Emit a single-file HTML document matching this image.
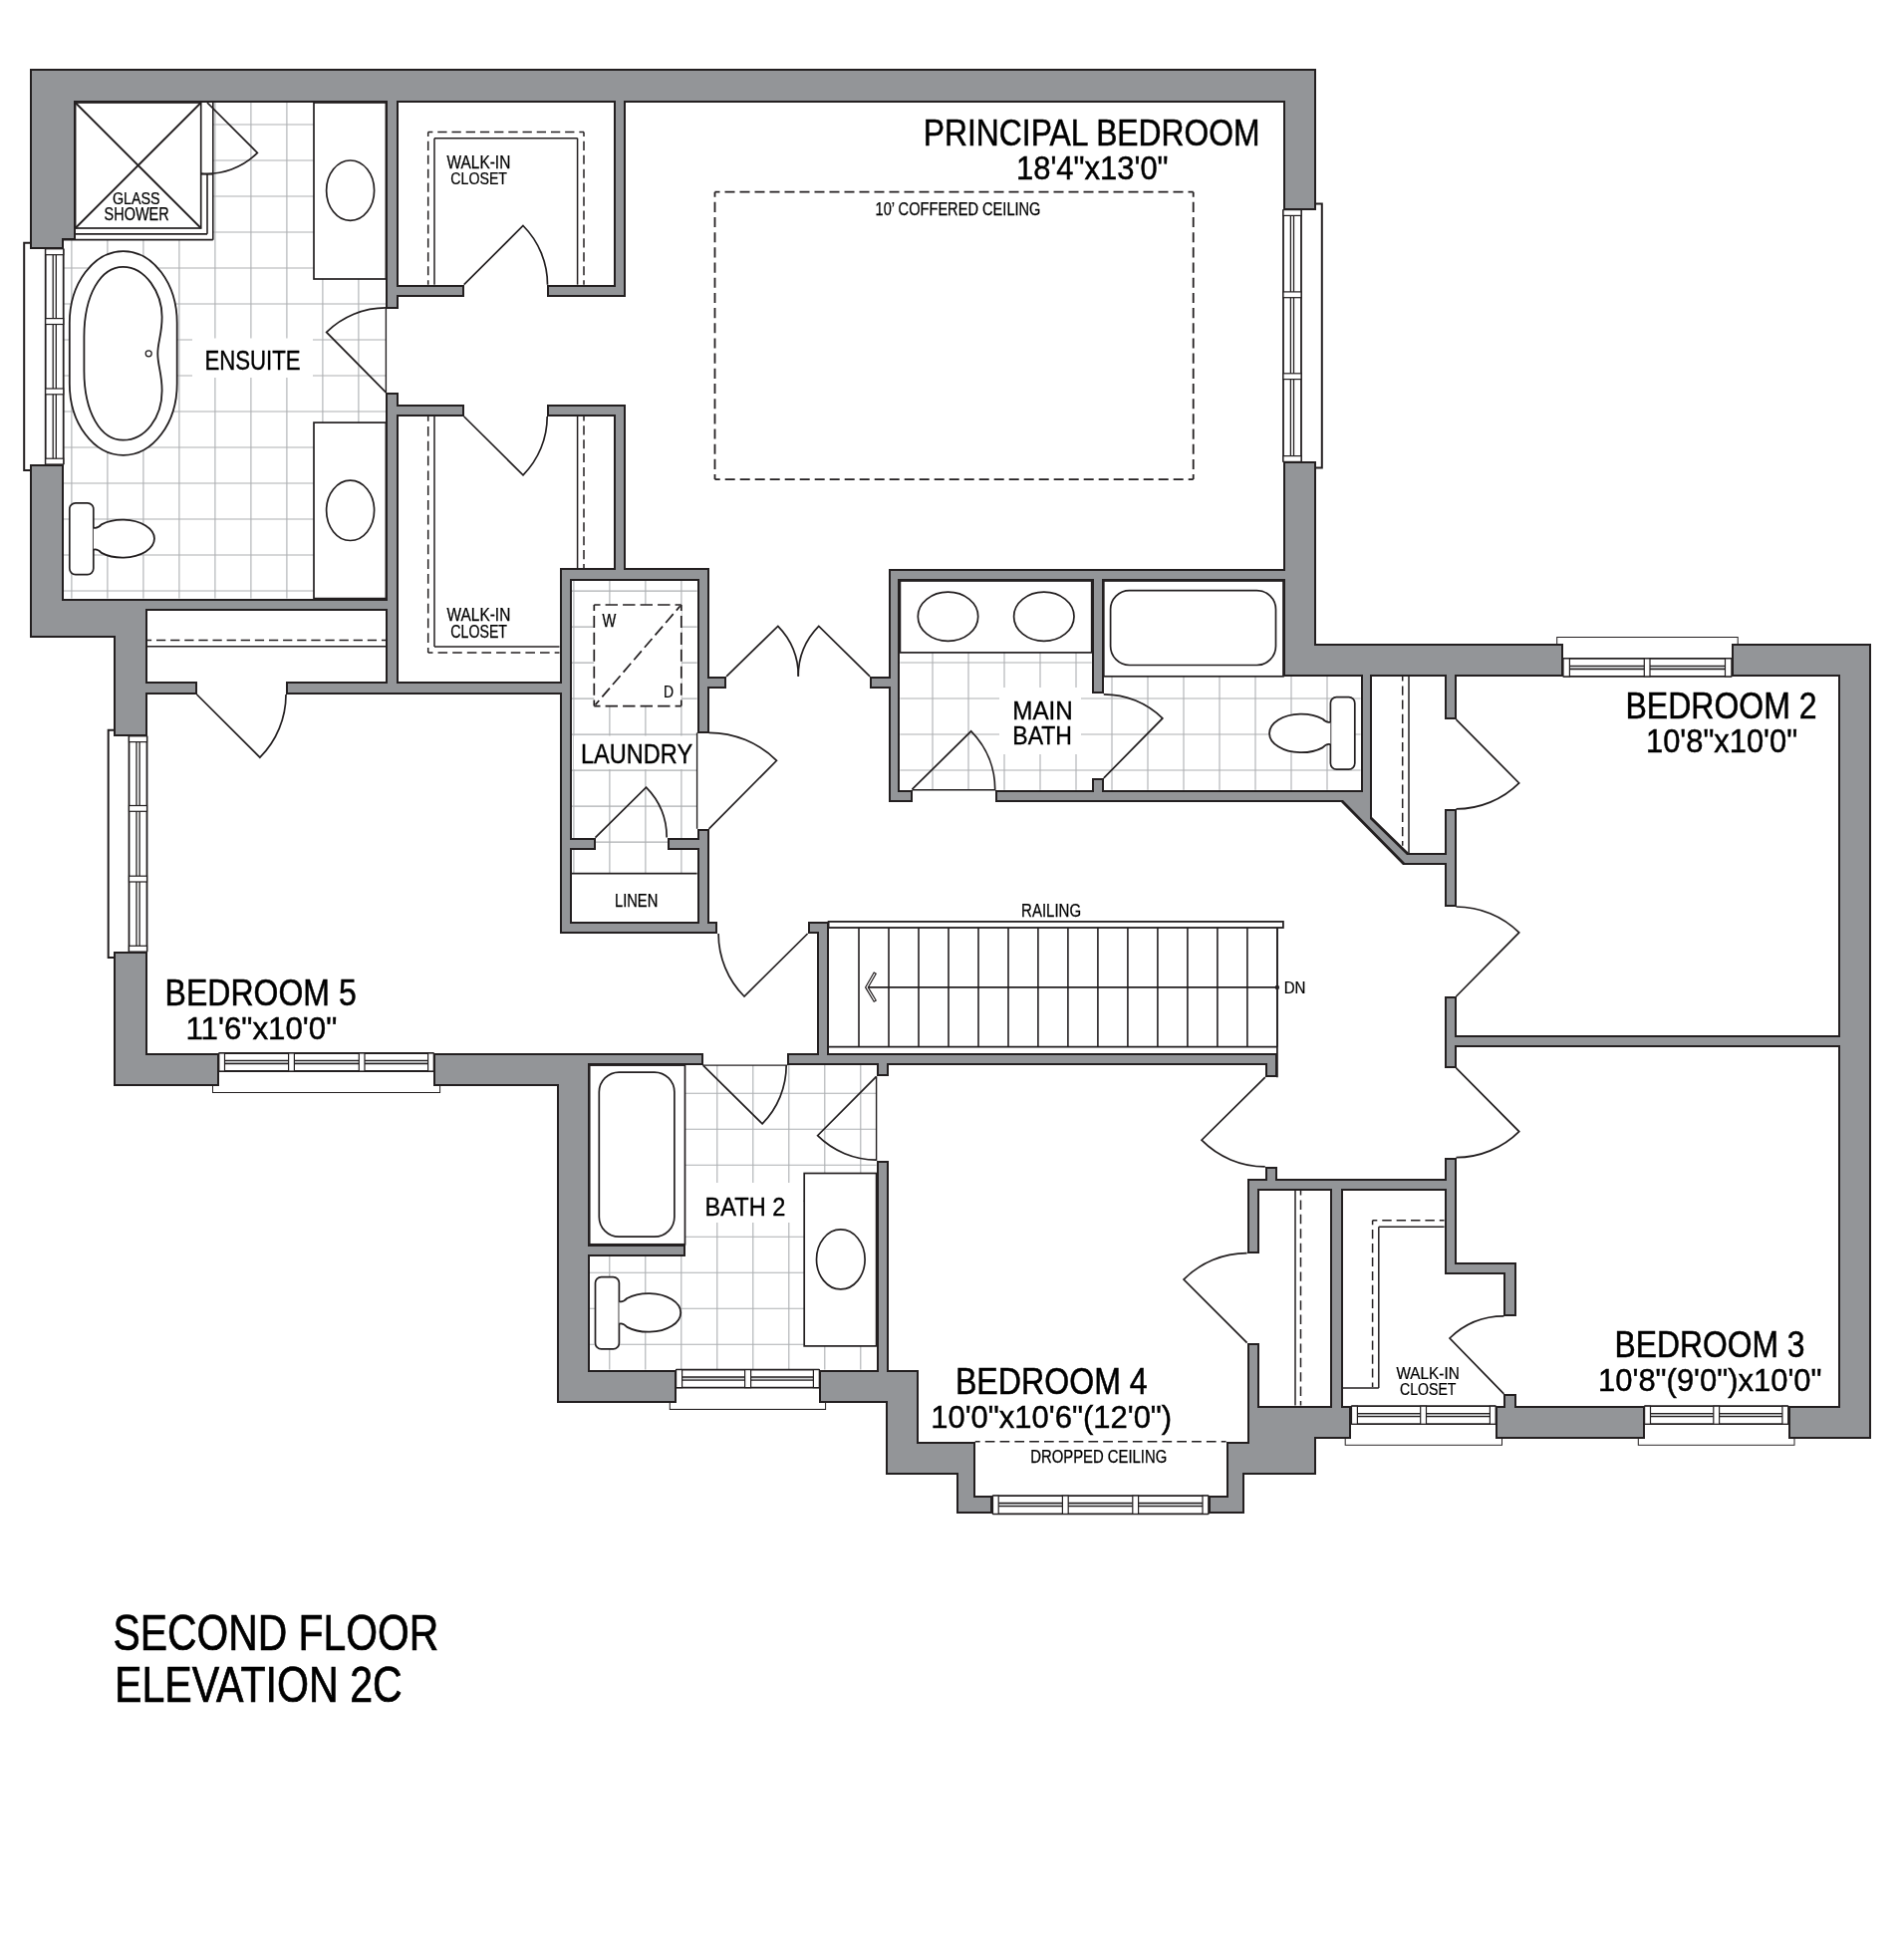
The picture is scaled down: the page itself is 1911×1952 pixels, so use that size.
<!DOCTYPE html>
<html><head><meta charset="utf-8"><title>Second Floor Elevation 2C</title>
<style>html,body{margin:0;padding:0;background:#fff;}svg{display:block;}
text{font-family:"Liberation Sans",sans-serif;fill:#000;}</style></head>
<body>
<svg width="1911" height="1952" viewBox="0 0 1911 1952">
<rect width="1911" height="1952" fill="#fff"/>
<clipPath id="ce"><rect x="213.8" y="103" width="101.19999999999999" height="137.7"/><rect x="63.7" y="240.7" width="323.7" height="359.90000000000003"/></clipPath>
<g clip-path="url(#ce)" stroke="#adafb2" stroke-width="1.1">
<line x1="71.9" y1="103" x2="71.9" y2="601"/>
<line x1="107.9" y1="103" x2="107.9" y2="601"/>
<line x1="143.9" y1="103" x2="143.9" y2="601"/>
<line x1="179.9" y1="103" x2="179.9" y2="601"/>
<line x1="215.9" y1="103" x2="215.9" y2="601"/>
<line x1="251.9" y1="103" x2="251.9" y2="601"/>
<line x1="287.9" y1="103" x2="287.9" y2="601"/>
<line x1="323.9" y1="103" x2="323.9" y2="601"/>
<line x1="359.9" y1="103" x2="359.9" y2="601"/>
<line x1="63" y1="125.0" x2="388" y2="125.0"/>
<line x1="63" y1="161.0" x2="388" y2="161.0"/>
<line x1="63" y1="197.0" x2="388" y2="197.0"/>
<line x1="63" y1="233.0" x2="388" y2="233.0"/>
<line x1="63" y1="269.0" x2="388" y2="269.0"/>
<line x1="63" y1="305.0" x2="388" y2="305.0"/>
<line x1="63" y1="341.0" x2="388" y2="341.0"/>
<line x1="63" y1="377.0" x2="388" y2="377.0"/>
<line x1="63" y1="413.0" x2="388" y2="413.0"/>
<line x1="63" y1="449.0" x2="388" y2="449.0"/>
<line x1="63" y1="485.0" x2="388" y2="485.0"/>
<line x1="63" y1="521.0" x2="388" y2="521.0"/>
<line x1="63" y1="557.0" x2="388" y2="557.0"/>
<line x1="63" y1="593.0" x2="388" y2="593.0"/>
</g>
<clipPath id="cl"><rect x="573.6" y="583" width="126.0" height="293.70000000000005"/></clipPath>
<g clip-path="url(#cl)" stroke="#adafb2" stroke-width="1.1">
<line x1="575.9" y1="583" x2="575.9" y2="877"/>
<line x1="611.9" y1="583" x2="611.9" y2="877"/>
<line x1="647.9" y1="583" x2="647.9" y2="877"/>
<line x1="683.9" y1="583" x2="683.9" y2="877"/>
<line x1="573" y1="593.1" x2="700" y2="593.1"/>
<line x1="573" y1="629.1" x2="700" y2="629.1"/>
<line x1="573" y1="665.1" x2="700" y2="665.1"/>
<line x1="573" y1="701.1" x2="700" y2="701.1"/>
<line x1="573" y1="737.1" x2="700" y2="737.1"/>
<line x1="573" y1="773.1" x2="700" y2="773.1"/>
<line x1="573" y1="809.1" x2="700" y2="809.1"/>
<line x1="573" y1="845.1" x2="700" y2="845.1"/>
</g>
<clipPath id="cm"><rect x="903.4" y="654.9" width="192.30000000000007" height="137.89999999999998"/><rect x="1095.7" y="696.5" width="12.099999999999909" height="84.39999999999998"/><rect x="1107.8" y="678.9" width="257.79999999999995" height="113.89999999999998"/></clipPath>
<g clip-path="url(#cm)" stroke="#adafb2" stroke-width="1.1">
<line x1="936.0" y1="655" x2="936.0" y2="793"/>
<line x1="972.0" y1="655" x2="972.0" y2="793"/>
<line x1="1008.0" y1="655" x2="1008.0" y2="793"/>
<line x1="1044.0" y1="655" x2="1044.0" y2="793"/>
<line x1="1080.0" y1="655" x2="1080.0" y2="793"/>
<line x1="1116.0" y1="655" x2="1116.0" y2="793"/>
<line x1="1152.0" y1="655" x2="1152.0" y2="793"/>
<line x1="1188.0" y1="655" x2="1188.0" y2="793"/>
<line x1="1224.0" y1="655" x2="1224.0" y2="793"/>
<line x1="1260.0" y1="655" x2="1260.0" y2="793"/>
<line x1="1296.0" y1="655" x2="1296.0" y2="793"/>
<line x1="1332.0" y1="655" x2="1332.0" y2="793"/>
<line x1="903" y1="665.0" x2="1366" y2="665.0"/>
<line x1="903" y1="701.0" x2="1366" y2="701.0"/>
<line x1="903" y1="737.0" x2="1366" y2="737.0"/>
<line x1="903" y1="773.0" x2="1366" y2="773.0"/>
</g>
<clipPath id="cb"><rect x="687.5" y="1069.1" width="192.10000000000002" height="305.5"/><rect x="591.7" y="1260.6" width="95.79999999999995" height="114.0"/></clipPath>
<g clip-path="url(#cb)" stroke="#adafb2" stroke-width="1.1">
<line x1="611.8" y1="1069" x2="611.8" y2="1375"/>
<line x1="647.8" y1="1069" x2="647.8" y2="1375"/>
<line x1="683.8" y1="1069" x2="683.8" y2="1375"/>
<line x1="719.8" y1="1069" x2="719.8" y2="1375"/>
<line x1="755.8" y1="1069" x2="755.8" y2="1375"/>
<line x1="791.8" y1="1069" x2="791.8" y2="1375"/>
<line x1="827.8" y1="1069" x2="827.8" y2="1375"/>
<line x1="863.8" y1="1069" x2="863.8" y2="1375"/>
<line x1="591" y1="1097.3" x2="880" y2="1097.3"/>
<line x1="591" y1="1133.3" x2="880" y2="1133.3"/>
<line x1="591" y1="1169.3" x2="880" y2="1169.3"/>
<line x1="591" y1="1205.3" x2="880" y2="1205.3"/>
<line x1="591" y1="1241.3" x2="880" y2="1241.3"/>
<line x1="591" y1="1277.3" x2="880" y2="1277.3"/>
<line x1="591" y1="1313.3" x2="880" y2="1313.3"/>
<line x1="591" y1="1349.3" x2="880" y2="1349.3"/>
</g>
<rect x="193" y="339.5" width="121" height="39.5" fill="#fff"/>
<rect x="576" y="738.5" width="122" height="33.5" fill="#fff"/>
<rect x="1003" y="690" width="82" height="67" fill="#fff"/>
<rect x="688" y="1187" width="118" height="40" fill="#fff"/>
<rect x="75.6" y="103" width="126.1" height="126.0" rx="0" fill="#fff" stroke="#231f20" stroke-width="1.7"/>
<line x1="75.6" y1="103" x2="201.7" y2="229" stroke="#231f20" stroke-width="1.8"/>
<line x1="201.7" y1="103" x2="75.6" y2="229" stroke="#231f20" stroke-width="1.8"/>
<line x1="75.6" y1="234.8" x2="208" y2="234.8" stroke="#231f20" stroke-width="1.8"/>
<line x1="63.7" y1="240.7" x2="213.8" y2="240.7" stroke="#231f20" stroke-width="1.8"/>
<line x1="208" y1="174.8" x2="208" y2="234.8" stroke="#231f20" stroke-width="1.6"/>
<line x1="213.8" y1="103" x2="213.8" y2="240.7" stroke="#231f20" stroke-width="1.6"/>
<line x1="201.7" y1="174.8" x2="213.8" y2="174.8" stroke="#231f20" stroke-width="1.6"/>
<path d="M208,103 L258.4,153.4 A71.3,71.3 0 0 1 201.8,174.0" fill="none" stroke="#231f20" stroke-width="1.7" stroke-linejoin="miter"/>
<rect x="315" y="103" width="72.4" height="177.0" rx="0" fill="#fff" stroke="#231f20" stroke-width="1.7"/>
<ellipse cx="351.6" cy="191.2" rx="24" ry="30.2" fill="#fff" stroke="#231f20" stroke-width="1.7"/>
<rect x="315" y="424.1" width="72.4" height="176.5" rx="0" fill="#fff" stroke="#231f20" stroke-width="1.7"/>
<ellipse cx="351.6" cy="512.3" rx="24" ry="30.2" fill="#fff" stroke="#231f20" stroke-width="1.7"/>
<rect x="69.8" y="252.2" width="107.9" height="204.7" rx="54" ry="72" fill="#fff" stroke="#231f20" stroke-width="1.8"/>
<path d="M84.4,338 C84.4,296 101,267.8 123.5,267.8 C146,267.8 162.6,294 162.6,318 C162.6,336 158.3,343 158.3,355 C158.3,367 162.6,375 162.6,392 C162.6,419 146,441.7 123.5,441.7 C101,441.7 84.4,414 84.4,372 Z" fill="#fff" stroke="#231f20" stroke-width="1.8"/>
<circle cx="149.2" cy="354.8" r="3" fill="#fff" stroke="#231f20" stroke-width="1.3"/>
<rect x="69.8" y="504.8" width="24.0" height="71.8" rx="6" fill="#fff" stroke="#231f20" stroke-width="1.7"/>
<path d="M93.8,529.58 Q97.8,530.72 101.8,526.35 A32.0,19.0 0 1 1 101.8,554.85 Q97.8,550.48 93.8,551.62" fill="#fff" stroke="#231f20" stroke-width="1.8"/>
<rect x="1335.4" y="699.7" width="24.4" height="72.4" rx="6" fill="#fff" stroke="#231f20" stroke-width="1.7"/>
<path d="M1335.4,724.706 Q1331.4,725.864 1327.4,721.425 A32.1,19.3 0 1 0 1327.4,750.375 Q1331.4,745.9359999999999 1335.4,747.0939999999999" fill="#fff" stroke="#231f20" stroke-width="1.8"/>
<rect x="597.5" y="1281.6" width="23.9" height="72.3" rx="6" fill="#fff" stroke="#231f20" stroke-width="1.7"/>
<path d="M621.4,1306.2060000000001 Q625.4,1307.364 629.4,1302.9250000000002 A32.4,19.3 0 1 1 629.4,1331.875 Q625.4,1327.4360000000001 621.4,1328.594" fill="#fff" stroke="#231f20" stroke-width="1.8"/>
<line x1="387.4" y1="309.6" x2="387.4" y2="393.9" stroke="#231f20" stroke-width="1.4"/>
<path d="M387.4,393.9 L327.7,333.4 A85.0,85.0 0 0 1 387.4,308.9" fill="none" stroke="#231f20" stroke-width="1.7" stroke-linejoin="miter"/>
<line x1="429.7" y1="132.4" x2="586" y2="132.4" stroke="#231f20" stroke-width="1.5" stroke-dasharray="9.31 4.90" stroke-dashoffset="4.65"/>
<line x1="429.7" y1="132.4" x2="429.7" y2="285.7" stroke="#231f20" stroke-width="1.5" stroke-dasharray="9.13 4.81" stroke-dashoffset="4.57"/>
<line x1="586" y1="132.4" x2="586" y2="285.7" stroke="#231f20" stroke-width="1.5" stroke-dasharray="9.13 4.81" stroke-dashoffset="4.57"/>
<line x1="436" y1="138.7" x2="579.6" y2="138.7" stroke="#231f20" stroke-width="1.5"/>
<line x1="436" y1="138.7" x2="436" y2="285.7" stroke="#231f20" stroke-width="1.5"/>
<line x1="579.6" y1="138.7" x2="579.6" y2="285.7" stroke="#231f20" stroke-width="1.5"/>
<path d="M465.7,285.7 L525,226.5 A83.8,83.8 0 0 1 549.5,285.7" fill="none" stroke="#231f20" stroke-width="1.7" stroke-linejoin="miter"/>
<line x1="429.7" y1="418" x2="429.7" y2="654.9" stroke="#231f20" stroke-width="1.5" stroke-dasharray="9.70 5.11" stroke-dashoffset="4.85"/>
<line x1="429.7" y1="654.9" x2="561.5" y2="654.9" stroke="#231f20" stroke-width="1.5" stroke-dasharray="9.59 5.05" stroke-dashoffset="4.80"/>
<line x1="586" y1="418" x2="586" y2="570.4" stroke="#231f20" stroke-width="1.5" stroke-dasharray="9.08 4.78" stroke-dashoffset="4.54"/>
<line x1="436" y1="418" x2="436" y2="649" stroke="#231f20" stroke-width="1.5"/>
<line x1="436" y1="649" x2="561.5" y2="649" stroke="#231f20" stroke-width="1.5"/>
<line x1="579.6" y1="418" x2="579.6" y2="570.4" stroke="#231f20" stroke-width="1.5"/>
<path d="M465.7,418 L525,476.8 A83.5,83.5 0 0 0 549.2,418.0" fill="none" stroke="#231f20" stroke-width="1.7" stroke-linejoin="miter"/>
<line x1="147.5" y1="642.6" x2="387.4" y2="642.6" stroke="#231f20" stroke-width="1.5" stroke-dasharray="9.25 4.87" stroke-dashoffset="4.62"/>
<line x1="147.5" y1="648.7" x2="387.4" y2="648.7" stroke="#231f20" stroke-width="1.5"/>
<path d="M197.6,697 L260.9,760.2 A89.4,89.4 0 0 0 287.0,697.0" fill="none" stroke="#231f20" stroke-width="1.7" stroke-linejoin="miter"/>
<line x1="717.5" y1="192.7" x2="1197.7" y2="192.7" stroke="#231f20" stroke-width="1.8" stroke-dasharray="10.00 5.00" stroke-dashoffset="5.00"/>
<line x1="1197.7" y1="192.7" x2="1197.7" y2="481.1" stroke="#231f20" stroke-width="1.8" stroke-dasharray="10.12 5.06" stroke-dashoffset="5.06"/>
<line x1="1197.7" y1="481.1" x2="717.5" y2="481.1" stroke="#231f20" stroke-width="1.8" stroke-dasharray="10.00 5.00" stroke-dashoffset="5.00"/>
<line x1="717.5" y1="481.1" x2="717.5" y2="192.7" stroke="#231f20" stroke-width="1.8" stroke-dasharray="10.12 5.06" stroke-dashoffset="5.06"/>
<rect x="596.3" y="607" width="87.5" height="101.6" fill="#fff"/>
<line x1="596.3" y1="607" x2="683.8" y2="607" stroke="#231f20" stroke-width="1.7" stroke-dasharray="12.44 5.06" stroke-dashoffset="6.22"/>
<line x1="683.8" y1="607" x2="683.8" y2="708.6" stroke="#231f20" stroke-width="1.7" stroke-dasharray="12.04 4.89" stroke-dashoffset="6.02"/>
<line x1="683.8" y1="708.6" x2="596.3" y2="708.6" stroke="#231f20" stroke-width="1.7" stroke-dasharray="12.44 5.06" stroke-dashoffset="6.22"/>
<line x1="596.3" y1="708.6" x2="596.3" y2="607" stroke="#231f20" stroke-width="1.7" stroke-dasharray="12.04 4.89" stroke-dashoffset="6.02"/>
<line x1="597.5" y1="707.4" x2="682.6" y2="608.2" stroke="#231f20" stroke-width="1.7" stroke-dasharray="11.62 4.72" stroke-dashoffset="5.81"/>
<line x1="573.6" y1="876.7" x2="699.6" y2="876.7" stroke="#231f20" stroke-width="1.8"/>
<line x1="699.6" y1="735.5" x2="699.6" y2="831.8" stroke="#231f20" stroke-width="1.4"/>
<path d="M711.5,831.8 L779.5,763.3 A96.5,96.5 0 0 0 711.5,735.3" fill="none" stroke="#231f20" stroke-width="1.7" stroke-linejoin="miter"/>
<path d="M597.5,840.6 L648.5,790.2 A71.7,71.7 0 0 1 669.2,840.6" fill="none" stroke="#231f20" stroke-width="1.7" stroke-linejoin="miter"/>
<path d="M729.1,678.8 L780.8,628.4 A72.2,72.2 0 0 1 801.3,678.8" fill="none" stroke="#231f20" stroke-width="1.7" stroke-linejoin="miter"/>
<path d="M873.1,678.8 L821.8,628.4 A71.9,71.9 0 0 0 801.2,678.8" fill="none" stroke="#231f20" stroke-width="1.7" stroke-linejoin="miter"/>
<path d="M810.6,937 L747,1000 A89.5,89.5 0 0 1 721.1,937.0" fill="none" stroke="#231f20" stroke-width="1.7" stroke-linejoin="miter"/>
<rect x="903.4" y="583" width="192.3" height="71.9" rx="0" fill="#fff" stroke="#231f20" stroke-width="1.7"/>
<ellipse cx="951.5" cy="618.8" rx="30.2" ry="24.6" fill="#fff" stroke="#231f20" stroke-width="1.7"/>
<ellipse cx="1047.8" cy="618.8" rx="30.2" ry="24.6" fill="#fff" stroke="#231f20" stroke-width="1.7"/>
<rect x="1107.8" y="583" width="180.2" height="95.8" rx="0" fill="#fff" stroke="#231f20" stroke-width="1.7"/>
<rect x="1114.6" y="592.6" width="165.9" height="74.9" rx="19" fill="#fff" stroke="#231f20" stroke-width="1.7"/>
<line x1="915.5" y1="792.8" x2="999.4" y2="792.8" stroke="#231f20" stroke-width="1.4"/>
<path d="M915.5,792.2 L974.7,733.8 A83.2,83.2 0 0 1 998.7,792.2" fill="none" stroke="#231f20" stroke-width="1.7" stroke-linejoin="miter"/>
<path d="M1107.8,780.9 L1166.8,720.9 A84.1,84.1 0 0 0 1107.8,696.8" fill="none" stroke="#231f20" stroke-width="1.7" stroke-linejoin="miter"/>
<line x1="1407.7" y1="678.9" x2="1407.7" y2="848.7" stroke="#231f20" stroke-width="1.5" stroke-dasharray="9.27 4.88" stroke-dashoffset="4.64"/>
<line x1="1414" y1="678.9" x2="1414" y2="856.1" stroke="#231f20" stroke-width="1.5"/>
<path d="M1461.5,722.1 L1524.7,785.9 A89.8,89.8 0 0 1 1461.5,811.9" fill="none" stroke="#231f20" stroke-width="1.7" stroke-linejoin="miter"/>
<path d="M1461.5,1000 L1524.7,935.9 A90.0,90.0 0 0 0 1461.5,910.0" fill="none" stroke="#231f20" stroke-width="1.7" stroke-linejoin="miter"/>
<path d="M1461.5,1071.8 L1524.7,1135.6 A89.8,89.8 0 0 1 1461.5,1161.6" fill="none" stroke="#231f20" stroke-width="1.7" stroke-linejoin="miter"/>
<line x1="1377.6" y1="1224.7" x2="1377.6" y2="1392" stroke="#231f20" stroke-width="1.5" stroke-dasharray="9.13 4.81" stroke-dashoffset="4.57"/>
<line x1="1377.6" y1="1224.7" x2="1449.5" y2="1224.7" stroke="#231f20" stroke-width="1.5" stroke-dasharray="9.42 4.96" stroke-dashoffset="4.71"/>
<line x1="1383.8" y1="1231.2" x2="1383.8" y2="1393" stroke="#231f20" stroke-width="1.5"/>
<line x1="1383.8" y1="1231.2" x2="1449.5" y2="1231.2" stroke="#231f20" stroke-width="1.5"/>
<line x1="1347.6" y1="1393" x2="1383.8" y2="1393" stroke="#231f20" stroke-width="1.5"/>
<path d="M1509.4,1398.8 L1455,1343 A77.9,77.9 0 0 1 1509.4,1320.9" fill="none" stroke="#231f20" stroke-width="1.7" stroke-linejoin="miter"/>
<line x1="1300" y1="1194.8" x2="1300" y2="1410.6" stroke="#231f20" stroke-width="1.5"/>
<line x1="1305.5" y1="1194.8" x2="1305.5" y2="1410.6" stroke="#231f20" stroke-width="1.5" stroke-dasharray="9.43 4.96" stroke-dashoffset="4.71"/>
<path d="M1251.6,1347.6 L1188,1284.1 A89.9,89.9 0 0 1 1251.6,1257.7" fill="none" stroke="#231f20" stroke-width="1.7" stroke-linejoin="miter"/>
<path d="M1269.8,1081.2 L1206,1144.2 A89.7,89.7 0 0 0 1269.8,1170.9" fill="none" stroke="#231f20" stroke-width="1.7" stroke-linejoin="miter"/>
<line x1="978.8" y1="1446.8" x2="1230.6" y2="1446.8" stroke="#231f20" stroke-width="1.5" stroke-dasharray="9.70 5.11" stroke-dashoffset="4.85"/>
<rect x="591.7" y="1069.1" width="95.8" height="179.7" rx="0" fill="#fff" stroke="#231f20" stroke-width="1.7"/>
<rect x="601.3" y="1076.1" width="75.6" height="165.1" rx="20" fill="#fff" stroke="#231f20" stroke-width="1.7"/>
<rect x="807.2" y="1177.5" width="72.4" height="173.4" rx="0" fill="#fff" stroke="#231f20" stroke-width="1.7"/>
<ellipse cx="843.8" cy="1263.9" rx="24.3" ry="30" fill="#fff" stroke="#231f20" stroke-width="1.7"/>
<line x1="705.6" y1="1069.1" x2="790.3" y2="1069.1" stroke="#231f20" stroke-width="1.4"/>
<line x1="879.6" y1="1080.4" x2="879.6" y2="1164.9" stroke="#231f20" stroke-width="1.4"/>
<path d="M705.6,1069.1 L765.1,1127.8 A83.6,83.6 0 0 0 789.2,1069.1" fill="none" stroke="#231f20" stroke-width="1.7" stroke-linejoin="miter"/>
<path d="M879.6,1080.4 L820.6,1139.7 A83.7,83.7 0 0 0 879.6,1164.1" fill="none" stroke="#231f20" stroke-width="1.7" stroke-linejoin="miter"/>
<rect x="831.6" y="924.9" width="456.3" height="6.1" rx="0" fill="#fff" stroke="#231f20" stroke-width="1.8"/>
<line x1="831.6" y1="1050.7" x2="1281.9" y2="1050.7" stroke="#231f20" stroke-width="1.8"/>
<line x1="862.0" y1="931" x2="862.0" y2="1050.7" stroke="#231f20" stroke-width="1.6"/>
<line x1="892.0" y1="931" x2="892.0" y2="1050.7" stroke="#231f20" stroke-width="1.6"/>
<line x1="922.0" y1="931" x2="922.0" y2="1050.7" stroke="#231f20" stroke-width="1.6"/>
<line x1="952.0" y1="931" x2="952.0" y2="1050.7" stroke="#231f20" stroke-width="1.6"/>
<line x1="982.0" y1="931" x2="982.0" y2="1050.7" stroke="#231f20" stroke-width="1.6"/>
<line x1="1012.0" y1="931" x2="1012.0" y2="1050.7" stroke="#231f20" stroke-width="1.6"/>
<line x1="1041.9" y1="931" x2="1041.9" y2="1050.7" stroke="#231f20" stroke-width="1.6"/>
<line x1="1071.9" y1="931" x2="1071.9" y2="1050.7" stroke="#231f20" stroke-width="1.6"/>
<line x1="1101.9" y1="931" x2="1101.9" y2="1050.7" stroke="#231f20" stroke-width="1.6"/>
<line x1="1131.9" y1="931" x2="1131.9" y2="1050.7" stroke="#231f20" stroke-width="1.6"/>
<line x1="1161.9" y1="931" x2="1161.9" y2="1050.7" stroke="#231f20" stroke-width="1.6"/>
<line x1="1191.9" y1="931" x2="1191.9" y2="1050.7" stroke="#231f20" stroke-width="1.6"/>
<line x1="1221.9" y1="931" x2="1221.9" y2="1050.7" stroke="#231f20" stroke-width="1.6"/>
<line x1="1251.9" y1="931" x2="1251.9" y2="1050.7" stroke="#231f20" stroke-width="1.6"/>
<line x1="1281.9" y1="931" x2="1281.9" y2="1050.7" stroke="#231f20" stroke-width="1.6"/>
<line x1="1281.9" y1="931" x2="1281.9" y2="1081.2" stroke="#231f20" stroke-width="1.8"/>
<line x1="871" y1="990.9" x2="1281.9" y2="990.9" stroke="#231f20" stroke-width="1.6"/>
<circle cx="1281.9" cy="990.9" r="2.2" fill="#231f20"/>
<path d="M877.2,976 L868.6,990.9 L877.2,1005.2 L879.2,1004 L871.3,990.9 L879.2,977.2 Z" fill="#fff" stroke="#231f20" stroke-width="1.2"/>
<path d="M30,243.8 L24.2,243.8 L24.2,472 L30,472" fill="#fff" stroke="#231f20" stroke-width="2"/>
<line x1="63.7" y1="249.8" x2="63.7" y2="466" stroke="#231f20" stroke-width="1.8"/>
<line x1="45.7" y1="249.8" x2="45.7" y2="466" stroke="#231f20" stroke-width="1.8"/>
<line x1="56.300000000000004" y1="249.8" x2="56.300000000000004" y2="466" stroke="#231f20" stroke-width="1.3"/>
<line x1="53.2" y1="249.8" x2="53.2" y2="466" stroke="#231f20" stroke-width="1.3"/>
<line x1="63.7" y1="249.8" x2="45.7" y2="249.8" stroke="#231f20" stroke-width="1.3"/>
<line x1="63.7" y1="466" x2="45.7" y2="466" stroke="#231f20" stroke-width="1.3"/>
<rect x="45.7" y="249.8" width="18" height="5.899999999999977" fill="#fff" stroke="#231f20" stroke-width="1.2"/>
<rect x="45.7" y="319.6" width="18" height="5.899999999999977" fill="#fff" stroke="#231f20" stroke-width="1.2"/>
<rect x="45.7" y="390" width="18" height="5.800000000000011" fill="#fff" stroke="#231f20" stroke-width="1.2"/>
<rect x="45.7" y="460.2" width="18" height="5.800000000000011" fill="#fff" stroke="#231f20" stroke-width="1.2"/>
<path d="M1321,204.6 L1326.8,204.6 L1326.8,469.4 L1321,469.4" fill="#fff" stroke="#231f20" stroke-width="2"/>
<line x1="1288" y1="210.6" x2="1288" y2="463.4" stroke="#231f20" stroke-width="1.8"/>
<line x1="1306" y1="210.6" x2="1306" y2="463.4" stroke="#231f20" stroke-width="1.8"/>
<line x1="1295.4" y1="210.6" x2="1295.4" y2="463.4" stroke="#231f20" stroke-width="1.3"/>
<line x1="1298.5" y1="210.6" x2="1298.5" y2="463.4" stroke="#231f20" stroke-width="1.3"/>
<line x1="1288" y1="210.6" x2="1306" y2="210.6" stroke="#231f20" stroke-width="1.3"/>
<line x1="1288" y1="463.4" x2="1306" y2="463.4" stroke="#231f20" stroke-width="1.3"/>
<rect x="1288" y="210.6" width="18" height="5.800000000000011" fill="#fff" stroke="#231f20" stroke-width="1.2"/>
<rect x="1288" y="292.9" width="18" height="5.800000000000011" fill="#fff" stroke="#231f20" stroke-width="1.2"/>
<rect x="1288" y="374.8" width="18" height="5.800000000000011" fill="#fff" stroke="#231f20" stroke-width="1.2"/>
<rect x="1288" y="457.6" width="18" height="5.7999999999999545" fill="#fff" stroke="#231f20" stroke-width="1.2"/>
<path d="M114.5,732.8 L108.7,732.8 L108.7,961.1 L114.5,961.1" fill="#fff" stroke="#231f20" stroke-width="2"/>
<line x1="147.5" y1="738.8" x2="147.5" y2="955.1" stroke="#231f20" stroke-width="1.8"/>
<line x1="129.5" y1="738.8" x2="129.5" y2="955.1" stroke="#231f20" stroke-width="1.8"/>
<line x1="140.1" y1="738.8" x2="140.1" y2="955.1" stroke="#231f20" stroke-width="1.3"/>
<line x1="137.0" y1="738.8" x2="137.0" y2="955.1" stroke="#231f20" stroke-width="1.3"/>
<line x1="147.5" y1="738.8" x2="129.5" y2="738.8" stroke="#231f20" stroke-width="1.3"/>
<line x1="147.5" y1="955.1" x2="129.5" y2="955.1" stroke="#231f20" stroke-width="1.3"/>
<rect x="129.5" y="738.8" width="18" height="5.800000000000068" fill="#fff" stroke="#231f20" stroke-width="1.2"/>
<rect x="129.5" y="808.5" width="18" height="5.7999999999999545" fill="#fff" stroke="#231f20" stroke-width="1.2"/>
<rect x="129.5" y="879.2" width="18" height="5.7999999999999545" fill="#fff" stroke="#231f20" stroke-width="1.2"/>
<rect x="129.5" y="949.3" width="18" height="5.800000000000068" fill="#fff" stroke="#231f20" stroke-width="1.2"/>
<path d="M214.0,1090 L214.0,1096 L441.1,1096 L441.1,1090" fill="#fff" stroke="#231f20" stroke-width="2"/>
<rect x="214.0" y="1090" width="227.1" height="6" fill="#fff"/>
<rect x="219.8" y="1064.4" width="215.5" height="3.099999999999909" fill="#d1d3d4"/>
<line x1="219.8" y1="1057" x2="435.3" y2="1057" stroke="#231f20" stroke-width="1.8"/>
<line x1="219.8" y1="1075" x2="435.3" y2="1075" stroke="#231f20" stroke-width="1.8"/>
<line x1="219.8" y1="1064.4" x2="435.3" y2="1064.4" stroke="#231f20" stroke-width="1.3"/>
<line x1="219.8" y1="1067.5" x2="435.3" y2="1067.5" stroke="#231f20" stroke-width="1.3"/>
<line x1="219.8" y1="1057" x2="219.8" y2="1075" stroke="#231f20" stroke-width="1.3"/>
<line x1="435.3" y1="1057" x2="435.3" y2="1075" stroke="#231f20" stroke-width="1.3"/>
<rect x="219.8" y="1057" width="5.699999999999989" height="18" fill="#fff" stroke="#231f20" stroke-width="1.2"/>
<rect x="289.6" y="1057" width="5.7999999999999545" height="18" fill="#fff" stroke="#231f20" stroke-width="1.2"/>
<rect x="360.3" y="1057" width="5.699999999999989" height="18" fill="#fff" stroke="#231f20" stroke-width="1.2"/>
<rect x="429.6" y="1057" width="5.699999999999989" height="18" fill="#fff" stroke="#231f20" stroke-width="1.2"/>
<path d="M672.8000000000001,1407.9 L672.8000000000001,1413.9 L828.0999999999999,1413.9 L828.0999999999999,1407.9" fill="#fff" stroke="#231f20" stroke-width="2"/>
<rect x="672.8000000000001" y="1407.9" width="155.29999999999993" height="6" fill="#fff"/>
<rect x="678.6" y="1382.0" width="143.69999999999993" height="3.099999999999909" fill="#d1d3d4"/>
<line x1="678.6" y1="1374.6" x2="822.3" y2="1374.6" stroke="#231f20" stroke-width="1.8"/>
<line x1="678.6" y1="1392.6" x2="822.3" y2="1392.6" stroke="#231f20" stroke-width="1.8"/>
<line x1="678.6" y1="1382.0" x2="822.3" y2="1382.0" stroke="#231f20" stroke-width="1.3"/>
<line x1="678.6" y1="1385.1" x2="822.3" y2="1385.1" stroke="#231f20" stroke-width="1.3"/>
<line x1="678.6" y1="1374.6" x2="678.6" y2="1392.6" stroke="#231f20" stroke-width="1.3"/>
<line x1="822.3" y1="1374.6" x2="822.3" y2="1392.6" stroke="#231f20" stroke-width="1.3"/>
<rect x="678.6" y="1374.6" width="6.0" height="18" fill="#fff" stroke="#231f20" stroke-width="1.2"/>
<rect x="747.6" y="1374.6" width="6.0" height="18" fill="#fff" stroke="#231f20" stroke-width="1.2"/>
<rect x="816.4" y="1374.6" width="5.899999999999977" height="18" fill="#fff" stroke="#231f20" stroke-width="1.2"/>
<rect x="996.5" y="1508.5" width="216.29999999999995" height="3.099999999999909" fill="#d1d3d4"/>
<line x1="996.5" y1="1501.1" x2="1212.8" y2="1501.1" stroke="#231f20" stroke-width="1.8"/>
<line x1="996.5" y1="1519.3999999999999" x2="1212.8" y2="1519.3999999999999" stroke="#231f20" stroke-width="1.8"/>
<line x1="996.5" y1="1508.5" x2="1212.8" y2="1508.5" stroke="#231f20" stroke-width="1.3"/>
<line x1="996.5" y1="1511.6" x2="1212.8" y2="1511.6" stroke="#231f20" stroke-width="1.3"/>
<line x1="996.5" y1="1501.1" x2="996.5" y2="1519.3999999999999" stroke="#231f20" stroke-width="1.3"/>
<line x1="1212.8" y1="1501.1" x2="1212.8" y2="1519.3999999999999" stroke="#231f20" stroke-width="1.3"/>
<rect x="996.5" y="1501.1" width="5.7000000000000455" height="18.3" fill="#fff" stroke="#231f20" stroke-width="1.2"/>
<rect x="1066.4" y="1501.1" width="5.7999999999999545" height="18.3" fill="#fff" stroke="#231f20" stroke-width="1.2"/>
<rect x="1136.8" y="1501.1" width="5.7999999999999545" height="18.3" fill="#fff" stroke="#231f20" stroke-width="1.2"/>
<rect x="1207" y="1501.1" width="5.7999999999999545" height="18.3" fill="#fff" stroke="#231f20" stroke-width="1.2"/>
<path d="M1350.7,1443.8 L1350.7,1449.8 L1507.0,1449.8 L1507.0,1443.8" fill="#fff" stroke="#231f20" stroke-width="2"/>
<rect x="1350.7" y="1443.8" width="156.30000000000004" height="6" fill="#fff"/>
<rect x="1356.5" y="1418.6000000000001" width="144.70000000000005" height="3.099999999999909" fill="#d1d3d4"/>
<line x1="1356.5" y1="1411.2" x2="1501.2" y2="1411.2" stroke="#231f20" stroke-width="1.8"/>
<line x1="1356.5" y1="1429.2" x2="1501.2" y2="1429.2" stroke="#231f20" stroke-width="1.8"/>
<line x1="1356.5" y1="1418.6000000000001" x2="1501.2" y2="1418.6000000000001" stroke="#231f20" stroke-width="1.3"/>
<line x1="1356.5" y1="1421.7" x2="1501.2" y2="1421.7" stroke="#231f20" stroke-width="1.3"/>
<line x1="1356.5" y1="1411.2" x2="1356.5" y2="1429.2" stroke="#231f20" stroke-width="1.3"/>
<line x1="1501.2" y1="1411.2" x2="1501.2" y2="1429.2" stroke="#231f20" stroke-width="1.3"/>
<rect x="1356.5" y="1411.2" width="5.900000000000091" height="18" fill="#fff" stroke="#231f20" stroke-width="1.2"/>
<rect x="1425.7" y="1411.2" width="5.7999999999999545" height="18" fill="#fff" stroke="#231f20" stroke-width="1.2"/>
<rect x="1495.4" y="1411.2" width="5.7999999999999545" height="18" fill="#fff" stroke="#231f20" stroke-width="1.2"/>
<path d="M1644.8,1443.8 L1644.8,1449.8 L1800.5,1449.8 L1800.5,1443.8" fill="#fff" stroke="#231f20" stroke-width="2"/>
<rect x="1644.8" y="1443.8" width="155.70000000000013" height="6" fill="#fff"/>
<rect x="1650.6" y="1418.6000000000001" width="144.10000000000014" height="3.099999999999909" fill="#d1d3d4"/>
<line x1="1650.6" y1="1411.2" x2="1794.7" y2="1411.2" stroke="#231f20" stroke-width="1.8"/>
<line x1="1650.6" y1="1429.2" x2="1794.7" y2="1429.2" stroke="#231f20" stroke-width="1.8"/>
<line x1="1650.6" y1="1418.6000000000001" x2="1794.7" y2="1418.6000000000001" stroke="#231f20" stroke-width="1.3"/>
<line x1="1650.6" y1="1421.7" x2="1794.7" y2="1421.7" stroke="#231f20" stroke-width="1.3"/>
<line x1="1650.6" y1="1411.2" x2="1650.6" y2="1429.2" stroke="#231f20" stroke-width="1.3"/>
<line x1="1794.7" y1="1411.2" x2="1794.7" y2="1429.2" stroke="#231f20" stroke-width="1.3"/>
<rect x="1650.6" y="1411.2" width="5.900000000000091" height="18" fill="#fff" stroke="#231f20" stroke-width="1.2"/>
<rect x="1719.8" y="1411.2" width="5.7999999999999545" height="18" fill="#fff" stroke="#231f20" stroke-width="1.2"/>
<rect x="1788.9" y="1411.2" width="5.7999999999999545" height="18" fill="#fff" stroke="#231f20" stroke-width="1.2"/>
<path d="M1563.2,646 L1563.2,640 L1743.7,640 L1743.7,646" fill="#fff" stroke="#231f20" stroke-width="2"/>
<rect x="1563.2" y="640" width="180.50000000000009" height="6" fill="#fff"/>
<rect x="1569" y="668.4" width="168.9000000000001" height="3.1000000000000227" fill="#d1d3d4"/>
<line x1="1569" y1="678.9" x2="1737.9" y2="678.9" stroke="#231f20" stroke-width="1.8"/>
<line x1="1569" y1="660.9" x2="1737.9" y2="660.9" stroke="#231f20" stroke-width="1.8"/>
<line x1="1569" y1="671.5" x2="1737.9" y2="671.5" stroke="#231f20" stroke-width="1.3"/>
<line x1="1569" y1="668.4" x2="1737.9" y2="668.4" stroke="#231f20" stroke-width="1.3"/>
<line x1="1569" y1="678.9" x2="1569" y2="660.9" stroke="#231f20" stroke-width="1.3"/>
<line x1="1737.9" y1="678.9" x2="1737.9" y2="660.9" stroke="#231f20" stroke-width="1.3"/>
<rect x="1569" y="660.9" width="6.400000000000091" height="18" fill="#fff" stroke="#231f20" stroke-width="1.2"/>
<rect x="1650.3" y="660.9" width="5.7000000000000455" height="18" fill="#fff" stroke="#231f20" stroke-width="1.2"/>
<rect x="1731.5" y="660.9" width="6.400000000000091" height="18" fill="#fff" stroke="#231f20" stroke-width="1.2"/>
<filter id="erode" x="-2%" y="-2%" width="104%" height="104%"><feMorphology operator="erode" radius="1.5"/></filter>
<g fill="#231f20">
<polygon points="30,69 1321,69 1321,211 1288,211 1288,103 76,103 76,241 64,241 64,250 30,250"/>
<polygon points="1288,463 1321,463 1321,646 1569,646 1569,679 1288,679"/>
<polygon points="1738,646 1878,646 1878,679 1738,679"/>
<polygon points="1845,646 1878,646 1878,1444 1845,1444"/>
<polygon points="30,466 64,466 64,601 387,601 387,613 148,613 148,739 114,739 114,640 30,640"/>
<polygon points="387,103 400,103 400,310 387,310"/>
<polygon points="387,394 400,394 400,690 387,690"/>
<polygon points="616,103 628,103 628,298 616,298"/>
<polygon points="400,286 466,286 466,298 400,298"/>
<polygon points="549,286 628,286 628,298 549,298"/>
<polygon points="400,406 466,406 466,418 400,418"/>
<polygon points="549,406 628,406 628,418 549,418"/>
<polygon points="616,406 628,406 628,577 616,577"/>
<polygon points="148,684 198,684 198,697 148,697"/>
<polygon points="287,684 567,684 567,697 287,697"/>
<polygon points="562,570 712,570 712,583 562,583"/>
<polygon points="562,570 574,570 574,937 562,937"/>
<polygon points="562,925 720,925 720,937 562,937"/>
<polygon points="700,570 712,570 712,736 700,736"/>
<polygon points="700,832 712,832 712,937 700,937"/>
<polygon points="712,679 729,679 729,691 712,691"/>
<polygon points="574,841 598,841 598,853 574,853"/>
<polygon points="670,841 700,841 700,853 670,853"/>
<polygon points="892,571 1288,571 1288,583 892,583"/>
<polygon points="892,571 903,571 903,805 892,805"/>
<polygon points="873,679 892,679 892,691 873,691"/>
<polygon points="892,793 916,793 916,805 892,805"/>
<polygon points="1096,583 1108,583 1108,696 1096,696"/>
<polygon points="1096,781 1108,781 1108,793 1096,793"/>
<polygon points="999,793 1366,793 1366,679 1377,679 1377,820 1414,856 1450,856 1450,868 1408,868 1346,805 999,805"/>
<polygon points="1450,679 1462,679 1462,722 1450,722"/>
<polygon points="1450,812 1462,812 1462,910 1450,910"/>
<polygon points="1450,1000 1462,1000 1462,1072 1450,1072"/>
<polygon points="1462,1039 1845,1039 1845,1051 1462,1051"/>
<polygon points="1450,1162 1462,1162 1462,1279 1450,1279"/>
<polygon points="1450,1267 1522,1267 1522,1279 1450,1279"/>
<polygon points="1509,1267 1522,1267 1522,1321 1509,1321"/>
<polygon points="1509,1399 1522,1399 1522,1411 1509,1411"/>
<polygon points="1501,1411 1651,1411 1651,1444 1501,1444"/>
<polygon points="1795,1411 1878,1411 1878,1444 1795,1444"/>
<polygon points="1252,1183 1455,1183 1455,1195 1252,1195"/>
<polygon points="1252,1183 1264,1183 1264,1258 1252,1258"/>
<polygon points="1270,1171 1282,1171 1282,1188 1270,1188"/>
<polygon points="114,955 148,955 148,1090 114,1090"/>
<polygon points="114,1057 220,1057 220,1090 114,1090"/>
<polygon points="435,1057 706,1057 706,1069 592,1069 592,1375 679,1375 679,1408 559,1408 559,1090 435,1090"/>
<polygon points="790,1057 1282,1057 1282,1081 1270,1081 1270,1069 892,1069 892,1080 880,1080 880,1069 790,1069"/>
<polygon points="820,925 832,925 832,1058 820,1058"/>
<polygon points="811,925 820,925 820,937 811,937"/>
<polygon points="592,1249 688,1249 688,1261 592,1261"/>
<polygon points="880,1165 892,1165 892,1375 922,1375 922,1447 979,1447 979,1501 996,1501 996,1519 960,1519 960,1480 889,1480 889,1408 822,1408 822,1375 880,1375"/>
<polygon points="1213,1501 1231,1501 1231,1447 1252,1447 1252,1348 1264,1348 1264,1411 1335,1411 1335,1194 1348,1194 1348,1411 1356,1411 1356,1444 1321,1444 1321,1480 1249,1480 1249,1519 1213,1519"/>
</g>
<g fill="#939598" filter="url(#erode)">
<polygon points="30,69 1321,69 1321,211 1288,211 1288,103 76,103 76,241 64,241 64,250 30,250"/>
<polygon points="1288,463 1321,463 1321,646 1569,646 1569,679 1288,679"/>
<polygon points="1738,646 1878,646 1878,679 1738,679"/>
<polygon points="1845,646 1878,646 1878,1444 1845,1444"/>
<polygon points="30,466 64,466 64,601 387,601 387,613 148,613 148,739 114,739 114,640 30,640"/>
<polygon points="387,103 400,103 400,310 387,310"/>
<polygon points="387,394 400,394 400,690 387,690"/>
<polygon points="616,103 628,103 628,298 616,298"/>
<polygon points="400,286 466,286 466,298 400,298"/>
<polygon points="549,286 628,286 628,298 549,298"/>
<polygon points="400,406 466,406 466,418 400,418"/>
<polygon points="549,406 628,406 628,418 549,418"/>
<polygon points="616,406 628,406 628,577 616,577"/>
<polygon points="148,684 198,684 198,697 148,697"/>
<polygon points="287,684 567,684 567,697 287,697"/>
<polygon points="562,570 712,570 712,583 562,583"/>
<polygon points="562,570 574,570 574,937 562,937"/>
<polygon points="562,925 720,925 720,937 562,937"/>
<polygon points="700,570 712,570 712,736 700,736"/>
<polygon points="700,832 712,832 712,937 700,937"/>
<polygon points="712,679 729,679 729,691 712,691"/>
<polygon points="574,841 598,841 598,853 574,853"/>
<polygon points="670,841 700,841 700,853 670,853"/>
<polygon points="892,571 1288,571 1288,583 892,583"/>
<polygon points="892,571 903,571 903,805 892,805"/>
<polygon points="873,679 892,679 892,691 873,691"/>
<polygon points="892,793 916,793 916,805 892,805"/>
<polygon points="1096,583 1108,583 1108,696 1096,696"/>
<polygon points="1096,781 1108,781 1108,793 1096,793"/>
<polygon points="999,793 1366,793 1366,679 1377,679 1377,820 1414,856 1450,856 1450,868 1408,868 1346,805 999,805"/>
<polygon points="1450,679 1462,679 1462,722 1450,722"/>
<polygon points="1450,812 1462,812 1462,910 1450,910"/>
<polygon points="1450,1000 1462,1000 1462,1072 1450,1072"/>
<polygon points="1462,1039 1845,1039 1845,1051 1462,1051"/>
<polygon points="1450,1162 1462,1162 1462,1279 1450,1279"/>
<polygon points="1450,1267 1522,1267 1522,1279 1450,1279"/>
<polygon points="1509,1267 1522,1267 1522,1321 1509,1321"/>
<polygon points="1509,1399 1522,1399 1522,1411 1509,1411"/>
<polygon points="1501,1411 1651,1411 1651,1444 1501,1444"/>
<polygon points="1795,1411 1878,1411 1878,1444 1795,1444"/>
<polygon points="1252,1183 1455,1183 1455,1195 1252,1195"/>
<polygon points="1252,1183 1264,1183 1264,1258 1252,1258"/>
<polygon points="1270,1171 1282,1171 1282,1188 1270,1188"/>
<polygon points="114,955 148,955 148,1090 114,1090"/>
<polygon points="114,1057 220,1057 220,1090 114,1090"/>
<polygon points="435,1057 706,1057 706,1069 592,1069 592,1375 679,1375 679,1408 559,1408 559,1090 435,1090"/>
<polygon points="790,1057 1282,1057 1282,1081 1270,1081 1270,1069 892,1069 892,1080 880,1080 880,1069 790,1069"/>
<polygon points="820,925 832,925 832,1058 820,1058"/>
<polygon points="811,925 820,925 820,937 811,937"/>
<polygon points="592,1249 688,1249 688,1261 592,1261"/>
<polygon points="880,1165 892,1165 892,1375 922,1375 922,1447 979,1447 979,1501 996,1501 996,1519 960,1519 960,1480 889,1480 889,1408 822,1408 822,1375 880,1375"/>
<polygon points="1213,1501 1231,1501 1231,1447 1252,1447 1252,1348 1264,1348 1264,1411 1335,1411 1335,1194 1348,1194 1348,1411 1356,1411 1356,1444 1321,1444 1321,1480 1249,1480 1249,1519 1213,1519"/>
</g>
<filter id="nolcd" x="-0.02" y="-0.02" width="1.04" height="1.04"><feOffset dx="0" dy="0"/></filter>
<g filter="url(#nolcd)">
<text x="926.8" y="145.8" font-size="36.92" stroke="#000" stroke-width="0.52" textLength="337.8" lengthAdjust="spacingAndGlyphs">PRINCIPAL BEDROOM</text>
<text x="1020.0" y="179.8" font-size="32.99" stroke="#000" stroke-width="0.46" textLength="152.6" lengthAdjust="spacingAndGlyphs">18'4&quot;x13'0&quot;</text>
<text x="878.6" y="216.2" font-size="17.73" stroke="#000" stroke-width="0.25" textLength="165.9" lengthAdjust="spacingAndGlyphs">10’ COFFERED CEILING</text>
<text x="448.6" y="169.2" font-size="17.59" stroke="#000" stroke-width="0.25" textLength="63.7" lengthAdjust="spacingAndGlyphs">WALK-IN</text>
<text x="452.3" y="185.4" font-size="17.30" stroke="#000" stroke-width="0.24" textLength="56.7" lengthAdjust="spacingAndGlyphs">CLOSET</text>
<text x="448.6" y="623.4" font-size="17.59" stroke="#000" stroke-width="0.25" textLength="63.7" lengthAdjust="spacingAndGlyphs">WALK-IN</text>
<text x="452.3" y="639.7" font-size="17.59" stroke="#000" stroke-width="0.25" textLength="56.7" lengthAdjust="spacingAndGlyphs">CLOSET</text>
<text x="112.9" y="205.0" font-size="16.42" stroke="#000" stroke-width="0.23" textLength="47.7" lengthAdjust="spacingAndGlyphs">GLASS</text>
<text x="104.6" y="221.4" font-size="17.59" stroke="#000" stroke-width="0.25" textLength="65.0" lengthAdjust="spacingAndGlyphs">SHOWER</text>
<text x="205.4" y="371.2" font-size="26.74" stroke="#000" stroke-width="0.37" textLength="96.3" lengthAdjust="spacingAndGlyphs">ENSUITE</text>
<text x="583.0" y="765.8" font-size="26.74" stroke="#000" stroke-width="0.37" textLength="112.1" lengthAdjust="spacingAndGlyphs">LAUNDRY</text>
<text x="617.0" y="909.5" font-size="17.59" stroke="#000" stroke-width="0.25" textLength="43.3" lengthAdjust="spacingAndGlyphs">LINEN</text>
<text x="604.4" y="629.2" font-size="17.73" stroke="#000" stroke-width="0.25" textLength="13.8" lengthAdjust="spacingAndGlyphs">W</text>
<text x="666.1" y="700.2" font-size="16.42" stroke="#000" stroke-width="0.23" textLength="10.1" lengthAdjust="spacingAndGlyphs">D</text>
<text x="1016.3" y="722.2" font-size="25.73" stroke="#000" stroke-width="0.36" textLength="60.5" lengthAdjust="spacingAndGlyphs">MAIN</text>
<text x="1016.3" y="746.9" font-size="26.45" stroke="#000" stroke-width="0.37" textLength="59.7" lengthAdjust="spacingAndGlyphs">BATH</text>
<text x="1025.1" y="920.3" font-size="17.59" stroke="#000" stroke-width="0.25" textLength="60.0" lengthAdjust="spacingAndGlyphs">RAILING</text>
<text x="1288.7" y="997.2" font-size="16.86" stroke="#000" stroke-width="0.24" textLength="21.8" lengthAdjust="spacingAndGlyphs">DN</text>
<text x="1631.5" y="721.2" font-size="36.92" stroke="#000" stroke-width="0.52" textLength="192.0" lengthAdjust="spacingAndGlyphs">BEDROOM 2</text>
<text x="1652.0" y="755.3" font-size="33.28" stroke="#000" stroke-width="0.47" textLength="152.1" lengthAdjust="spacingAndGlyphs">10'8&quot;x10'0&quot;</text>
<text x="165.6" y="1009.3" font-size="36.92" stroke="#000" stroke-width="0.52" textLength="192.1" lengthAdjust="spacingAndGlyphs">BEDROOM 5</text>
<text x="186.5" y="1042.8" font-size="32.27" stroke="#000" stroke-width="0.45" textLength="151.8" lengthAdjust="spacingAndGlyphs">11'6&quot;x10'0&quot;</text>
<text x="707.6" y="1220.3" font-size="26.31" stroke="#000" stroke-width="0.37" textLength="80.7" lengthAdjust="spacingAndGlyphs">BATH 2</text>
<text x="958.9" y="1399.1" font-size="36.92" stroke="#000" stroke-width="0.52" textLength="192.8" lengthAdjust="spacingAndGlyphs">BEDROOM 4</text>
<text x="934.2" y="1433.4" font-size="31.54" stroke="#000" stroke-width="0.44" textLength="242.0" lengthAdjust="spacingAndGlyphs">10'0&quot;x10'6&quot;(12'0&quot;)</text>
<text x="1034.3" y="1468.1" font-size="17.59" stroke="#000" stroke-width="0.25" textLength="136.9" lengthAdjust="spacingAndGlyphs">DROPPED CEILING</text>
<text x="1620.6" y="1361.9" font-size="36.92" stroke="#000" stroke-width="0.52" textLength="190.9" lengthAdjust="spacingAndGlyphs">BEDROOM 3</text>
<text x="1604.1" y="1396.2" font-size="31.25" stroke="#000" stroke-width="0.44" textLength="224.4" lengthAdjust="spacingAndGlyphs">10'8&quot;(9'0&quot;)x10'0&quot;</text>
<text x="1401.5" y="1384.1" font-size="17.01" stroke="#000" stroke-width="0.24" textLength="63.2" lengthAdjust="spacingAndGlyphs">WALK-IN</text>
<text x="1405.0" y="1400.3" font-size="17.15" stroke="#000" stroke-width="0.24" textLength="56.5" lengthAdjust="spacingAndGlyphs">CLOSET</text>
<text x="113.5" y="1655.9" font-size="49.85" stroke="#000" stroke-width="0.70" textLength="326.7" lengthAdjust="spacingAndGlyphs">SECOND FLOOR</text>
<text x="115.0" y="1707.8" font-size="50.00" stroke="#000" stroke-width="0.70" textLength="288.7" lengthAdjust="spacingAndGlyphs">ELEVATION 2C</text>
</g>
</svg>
</body></html>
